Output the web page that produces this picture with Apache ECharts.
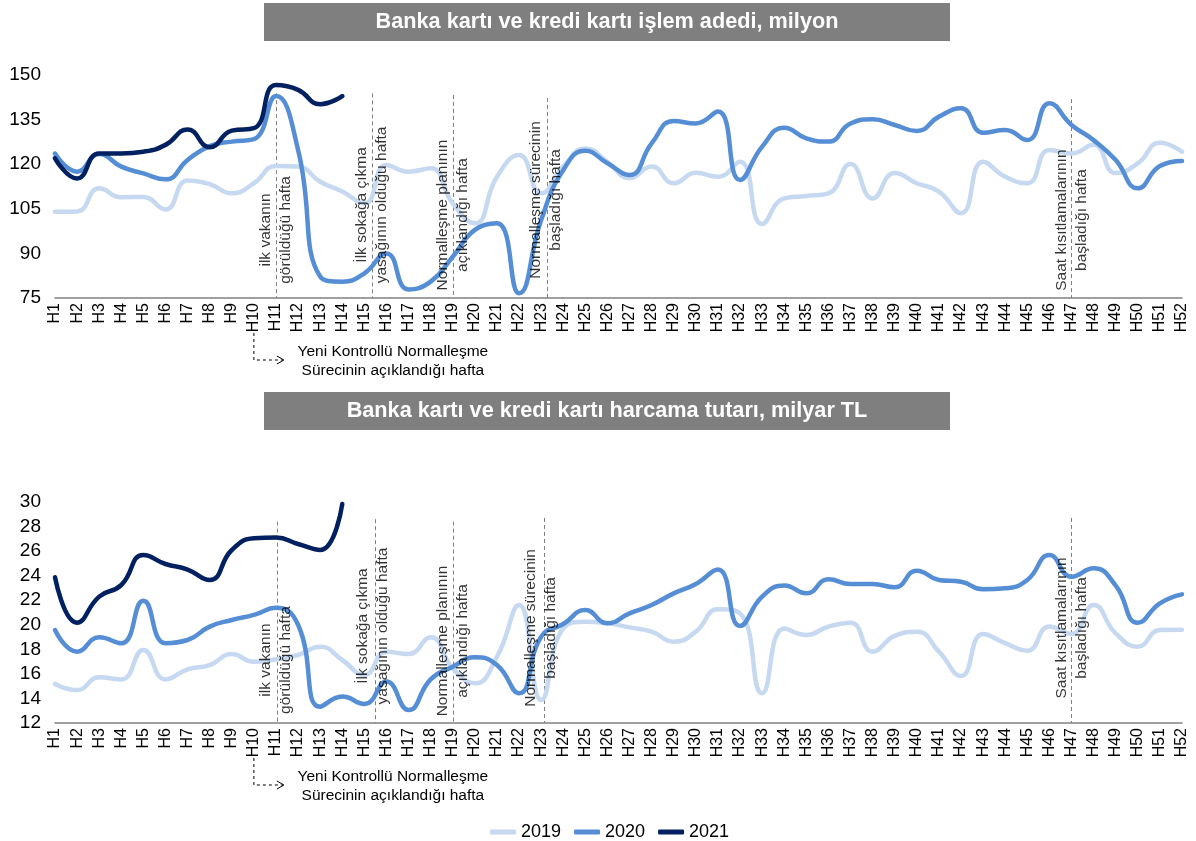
<!DOCTYPE html>
<html><head><meta charset="utf-8">
<script src="https://cdn.jsdelivr.net/npm/echarts@6/dist/echarts.min.js"></script>
<style>html,body{margin:0;padding:0;background:#fff}#c{width:1196px;height:841px}</style>
</head><body><div id="c"></div>
<script>
// ---------- DATA ----------
const weeks = Array.from({length: 52}, (_, i) => 'H' + (i + 1));
const seriesNames = ['2019', '2020', '2021'];

// Banka kartı ve kredi kartı işlem adedi, milyon
const islem2019 = [104,104.1,111.9,108.9,109,104.8,114.5,113.3,110.2,113.6,119.4,119.2,114.1,110.8,106.8,119.7,117.5,118.6,106.8,100.1,115.8,123.1,110.2,119.2,125.3,120.8,115.3,119.2,113.6,117.1,115.8,120.8,99.9,108.5,109.3,110.2,120.1,108.5,117,113.6,110.8,103.5,120.8,115.8,113.6,124.8,123.6,126.5,117,120.3,127.2,124.2];
const islem2020 = [123.6,117.5,123.4,119.2,116.9,114.9,121.4,126.1,127.6,128.4,142.9,124.8,82.2,80.5,83.3,90,77.9,80.5,88.9,97.9,100.1,76.6,101.2,118,124.5,120.3,116.4,127,134.5,133.7,137.7,114.7,125.9,132.3,128.7,127.6,133.7,135.1,133.2,131.2,136,138.8,130.6,131.5,128.1,140.5,133.2,128.1,121.4,111.9,119.4,121.1];
const islem2021 = [122,115.2,123.6,123.6,124.2,126.5,131.7,125.7,131.3,132.1,146.6,145,140.2,142.9];

// Banka kartı ve kredi kartı harcama tutarı, milyar TL
const tutar2019 = [15.18,14.69,15.72,15.55,17.95,15.55,16.37,16.72,17.62,16.99,17.2,17.54,18.22,17.13,15.91,17.8,17.62,18.98,16.45,15.23,17.4,21.61,13.87,19.71,20.25,20.12,19.79,19.44,18.62,19.44,21.26,20.93,14.42,19.7,19.17,19.85,20.17,17.81,19.1,19.44,17.81,15.83,19.25,18.5,17.89,19.85,19.25,21.61,19.3,18.22,19.57,19.6];
const tutar2020 = [19.57,17.81,18.98,18.49,21.96,18.5,18.76,19.85,20.39,20.8,21.39,20.0,13.33,14.15,13.55,15.37,13.06,15.55,16.59,17.35,16.72,14.42,19.03,20.06,21.2,20.12,20.93,21.61,22.56,23.32,24.5,19.9,22.29,23.2,22.56,23.7,23.32,23.32,23.05,24.41,23.65,23.51,22.89,22.97,23.65,25.68,23.92,24.6,23.19,20.17,21.75,22.48];
const tutar2021 = [23.87,20.17,22.29,23.24,25.68,24.95,24.5,23.65,26.09,27.04,27.1,26.58,26.09,29.84];

const titles = ['Banka kartı ve kredi kartı işlem adedi, milyon', 'Banka kartı ve kredi kartı harcama tutarı, milyar TL'];
const eventTexts = ['ilk vakanın\ngörüldüğü hafta', 'İlk sokağa çıkma\nyasağının olduğu hafta', 'Normalleşme planının\naçıklandığı hafta', 'Normalleşme sürecinin\nbaşladığı hafta', 'Saat kısıtlamalarının\nbaşladığı hafta'];
const noteText = 'Yeni Kontrollü Normalleşme\nSürecinin açıklandığı hafta';
const noteWeek = 'H10';

// annotation placement (week index on a 0..51 scale, value on the y axis)
const ann = [
  {lineX: [10, 14.34, 18, 22.26, 45.97], lineTop: [143.9, 143.8, 143.3, 142.3, 141.9], lineBottom: 75,
   labX: [10, 14.34, 18, 22.2, 46], labY: [97.9, 106.3, 102.9, 108, 101.2]},
  {lineX: [10.05, 14.48, 18, 22.14, 45.97], lineTop: [28.4, 28.6, 28.4, 28.7, 28.7], lineBottom: 12,
   labX: [10, 14.4, 17.98, 22.0, 46], labY: [17.13, 19.9, 18.68, 19.74, 19.74]}
];

// ---------- CHART ----------
const FONT = "'Liberation Sans', Arial, sans-serif";
const colors = ['#c6d9f0', '#558ed5', '#002060'];
const chart = echarts.init(document.getElementById('c'));

function catAxis(g) {
  return {type: 'category', gridIndex: g, data: weeks, boundaryGap: false,
    axisLine: {lineStyle: {color: '#808080', width: 1.5}}, axisTick: {show: false},
    axisLabel: {rotate: 90, interval: 0, fontSize: 16, color: '#000', fontFamily: FONT, margin: 5}};
}
function valAxis(g, min, max, interval) {
  return {type: 'value', gridIndex: g, min: min, max: max, interval: interval,
    splitLine: {show: false}, axisLine: {show: false}, axisTick: {show: false},
    axisLabel: {fontSize: 19, color: '#000', fontFamily: FONT, margin: 14}};
}
function lineSeries(name, data, g, ci) {
  return {name: name, type: 'line', xAxisIndex: g, yAxisIndex: g, data: data, smooth: true,
    symbol: 'none', lineStyle: {width: 4.5, color: colors[ci], cap: 'round'}, itemStyle: {color: colors[ci]},
    z: 3 + ci};
}
function dashSeries(g) {
  const a = ann[g];
  return {type: 'lines', coordinateSystem: 'cartesian2d', xAxisIndex: 2 + g, yAxisIndex: g, silent: true,
    lineStyle: {color: '#7f7f7f', width: 1, type: [4, 3], opacity: 1},
    data: a.lineX.map((x, i) => ({coords: [[x, a.lineTop[i]], [x, a.lineBottom]]})), z: 2};
}
function labelSeries(g) {
  const a = ann[g];
  return {type: 'scatter', xAxisIndex: 2 + g, yAxisIndex: g, symbolSize: 0, silent: true, z: 10,
    data: a.labX.map((x, i) => [x, a.labY[i], eventTexts[i]]),
    label: {show: true, position: 'inside', rotate: 90, formatter: p => p.data[2],
      fontSize: 15.5, lineHeight: 20, color: '#000', fontFamily: FONT, align: 'center', verticalAlign: 'middle'}};
}

chart.setOption({
  animation: false,
  textStyle: {fontFamily: FONT},
  grid: [
    {left: 55, right: 14, top: 75, height: 223},
    {left: 55, right: 14, top: 502, height: 221}
  ],
  xAxis: [catAxis(0), catAxis(1),
    {type: 'value', gridIndex: 0, min: 0, max: 51, show: false},
    {type: 'value', gridIndex: 1, min: 0, max: 51, show: false}],
  yAxis: [valAxis(0, 75, 150, 15), valAxis(1, 12, 30, 2)],
  legend: {data: seriesNames, left: 485, top: 818, icon: 'roundRect', itemWidth: 26, itemHeight: 5, itemGap: 13,
    textStyle: {fontSize: 18, color: '#000', fontFamily: FONT}},
  series: [
    lineSeries('2019', islem2019, 0, 0), lineSeries('2020', islem2020, 0, 1), lineSeries('2021', islem2021, 0, 2),
    lineSeries('2019', tutar2019, 1, 0), lineSeries('2020', tutar2020, 1, 1), lineSeries('2021', tutar2021, 1, 2),
    dashSeries(0), dashSeries(1), labelSeries(0), labelSeries(1)
  ]
});

// titles and the H10 note (positions taken from the axes)
const graphics = [];
const titleTops = [3, 392];
titles.forEach((t, i) => {
  graphics.push({type: 'rect', shape: {x: 264, y: titleTops[i], width: 686, height: 38}, style: {fill: '#7f7f7f'}, silent: true});
  graphics.push({type: 'text', x: 607, y: titleTops[i] + 19, style: {text: t, fill: '#fff', font: 'bold 21.7px ' + FONT, textAlign: 'center', textVerticalAlign: 'middle'}, silent: true});
});
[0, 1].forEach(g => {
  const px = chart.convertToPixel({xAxisIndex: g}, noteWeek);
  const axisY = chart.convertToPixel({yAxisIndex: g}, g === 0 ? 75 : 12);
  const y0 = axisY + 35, y1 = axisY + 62;
  graphics.push({type: 'polyline', shape: {points: [[px, y0], [px, y1], [px + 29, y1]]}, style: {stroke: '#000', lineWidth: 1, lineDash: [3, 3], fill: null}, silent: true});
  graphics.push({type: 'polyline', shape: {points: [[px + 23, y1 - 4], [px + 30, y1], [px + 23, y1 + 4]]}, style: {stroke: '#000', lineWidth: 1, fill: null}, silent: true});
  graphics.push({type: 'text', x: px + 139, y: y1 + 1, style: {text: noteText, fill: '#000', font: '15.5px ' + FONT, lineHeight: 19, textAlign: 'center', textVerticalAlign: 'middle'}, silent: true});
});
chart.setOption({graphic: graphics});
</script>
</body></html>
